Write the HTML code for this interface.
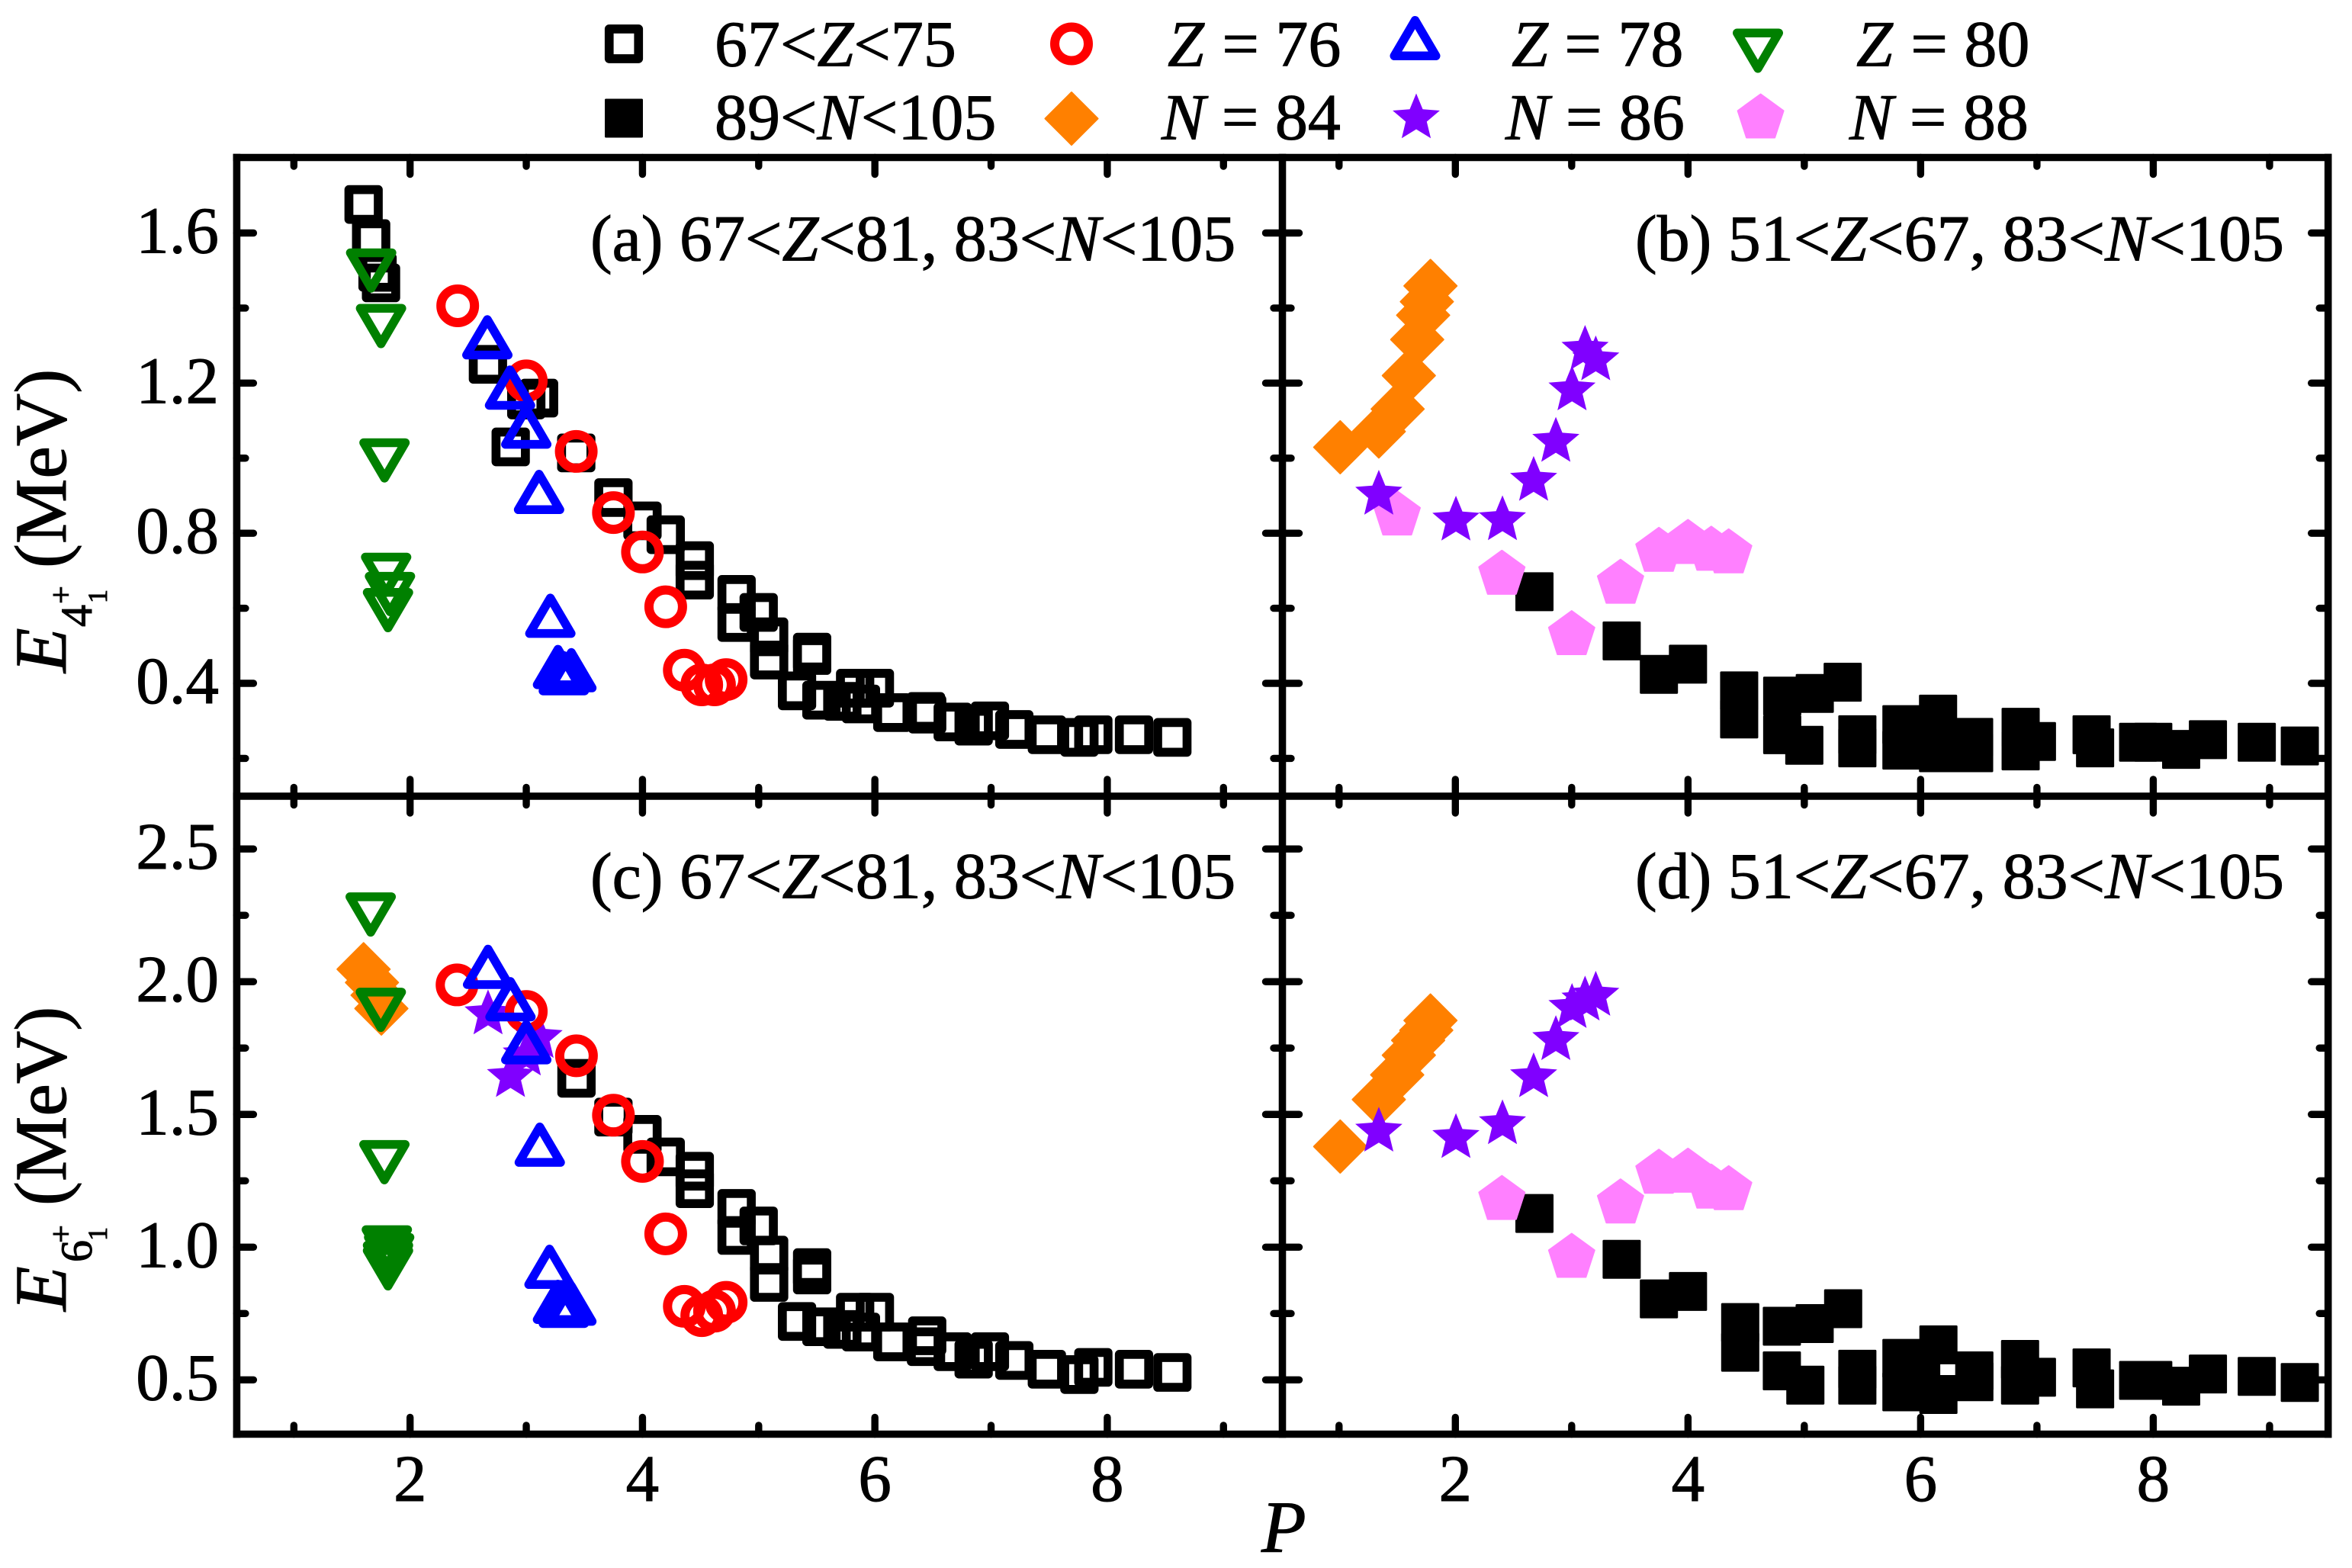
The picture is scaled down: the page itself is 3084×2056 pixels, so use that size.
<!DOCTYPE html>
<html lang="en">
<head>
<meta charset="utf-8">
<title>E vs P scatter panels</title>
<style>
html,body{margin:0;padding:0;background:#fff;}
svg{display:block;}
text{font-family:"Liberation Serif","DejaVu Serif",serif;fill:#000;stroke:#000;stroke-width:1;}
.it{font-style:italic;}
</style>
</head>
<body>
<svg id="chart" xmlns="http://www.w3.org/2000/svg" width="3084" height="2056" viewBox="0 0 3084 2056">
<rect x="0" y="0" width="3084" height="2056" fill="#fff"/>
<g id="marks"></g>
<g id="axes"></g>
<g id="legend-marks"></g>

<g font-size="86">
<text x="937" y="86.5">67&lt;<tspan class="it">Z</tspan>&lt;75</text>
<text x="937" y="182.5">89&lt;<tspan class="it">N</tspan>&lt;105</text>
<text x="1531" y="86.5"><tspan class="it">Z</tspan><tspan dx="2"> = 76</tspan></text>
<text x="1523" y="182.5"><tspan class="it">N</tspan> = 84</text>
<text x="1982" y="86.5"><tspan class="it">Z</tspan> = 78</text>
<text x="1974" y="182.5"><tspan class="it">N</tspan> = 86</text>
<text x="2434" y="86.5"><tspan class="it">Z</tspan><tspan dx="2"> = 80</tspan></text>
<text x="2425" y="182.5"><tspan class="it">N</tspan> = 88</text>
</g>

<g font-size="86">
<text x="774" y="341.5">(a) 67&lt;<tspan class="it">Z</tspan>&lt;81, 83&lt;<tspan class="it">N</tspan>&lt;105</text>
<text x="2144" y="341.5">(b) 51&lt;<tspan class="it">Z</tspan>&lt;67, 83&lt;<tspan class="it">N</tspan>&lt;105</text>
<text x="774" y="1177.5">(c) 67&lt;<tspan class="it">Z</tspan>&lt;81, 83&lt;<tspan class="it">N</tspan>&lt;105</text>
<text x="2144" y="1177.5">(d) 51&lt;<tspan class="it">Z</tspan>&lt;67, 83&lt;<tspan class="it">N</tspan>&lt;105</text>
</g>

<g>
<text transform="translate(86,882) rotate(-90)" font-size="96" class="it">E</text>
<text transform="translate(120,822) rotate(-90)" font-size="58">4</text>
<text transform="translate(94,780) rotate(-90)" font-size="42" text-anchor="middle">+</text>
<text transform="translate(140,782) rotate(-90)" font-size="36" text-anchor="middle">1</text>
<text transform="translate(86,745) rotate(-90)" font-size="96">(MeV)</text>
</g>
<g>
<text transform="translate(86,1719) rotate(-90)" font-size="96" class="it">E</text>
<text transform="translate(120,1655) rotate(-90)" font-size="58">6</text>
<text transform="translate(94,1618) rotate(-90)" font-size="42" text-anchor="middle">+</text>
<text transform="translate(140,1618) rotate(-90)" font-size="36" text-anchor="middle">1</text>
<text transform="translate(86,1581) rotate(-90)" font-size="96">(MeV)</text>
</g>
<text x="1654" y="2035" font-size="96" class="it">P</text>
</svg>

<script>
// ---- tick values ----
const xMajorTicks = [2, 4, 6, 8];
const xMinorTicks = [1, 3, 5, 7, 9];
const yTopMajorTicks = [0.4, 0.8, 1.2, 1.6];
const yTopMinorTicks = [0.2, 0.6, 1.0, 1.4];
const yBottomMajorTicks = [0.5, 1.0, 1.5, 2.0, 2.5];
const yBottomMinorTicks = [0.75, 1.25, 1.75, 2.25];

// ---- panel (a) ----
const aOpenSquareP = [1.6,1.665,1.72,1.75,2.67,3.0,3.11,2.866,3.43,3.75,4.0,4.2,4.45,4.45,4.81,4.81,5.0,5.09,5.09,5.46,5.46,5.33,5.54,5.72,5.83,5.88,6.0,6.15,6.44,6.45,6.67,6.85,6.99,7.2,7.48,7.76,7.88,8.23,8.56];
const aOpenSquareE = [1.676,1.585,1.495,1.467,1.25,1.155,1.16,1.03,1.014,0.895,0.833,0.796,0.727,0.675,0.637,0.562,0.589,0.524,0.462,0.483,0.474,0.38,0.355,0.352,0.387,0.345,0.387,0.322,0.325,0.318,0.297,0.286,0.30,0.277,0.263,0.256,0.263,0.263,0.256];
const aCircleP = [2.41,3.0,3.43,3.75,4.0,4.2,4.36,4.51,4.62,4.72];
const aCircleE = [1.406,1.206,1.018,0.855,0.75,0.604,0.435,0.396,0.396,0.41];
const aTriUpP = [2.665,2.86,3.0,3.11,3.207,3.273,3.388,3.323];
const aTriUpE = [1.322,1.188,1.084,0.91,0.58,0.4435,0.435,0.427];
const aTriDownP = [1.665,1.75,1.78,1.794,1.827,1.81];
const aTriDownE = [1.5,1.352,0.994,0.689,0.638,0.595];

// ---- panel (b) ----
const bFilledP = [2.68,3.43,3.75,4.0,4.44,4.44,4.81,4.81,5.09,5.33,5.0,5.456,5.456,5.835,5.835,6.15,6.15,6.0,6.46,6.46,6.86,6.86,7.0,7.47,7.5,7.87,8.0,8.24,8.47,8.89,9.26];
const bFilledE = [0.644,0.513,0.424,0.451,0.38,0.305,0.366,0.263,0.373,0.403,0.235,0.263,0.228,0.29,0.222,0.318,0.215,0.26,0.256,0.215,0.283,0.22,0.245,0.263,0.228,0.243,0.243,0.224,0.25,0.243,0.233];
const bDiamondP = [1.01,1.342,1.504,1.6,1.672,1.723,1.755,1.786];
const bDiamondE = [1.029,1.071,1.131,1.22,1.316,1.381,1.417,1.459];
const bStarP = [1.342,2.005,2.405,2.673,2.864,3.003,3.115,3.207];
const bStarE = [0.909,0.84,0.841,0.946,1.05,1.187,1.295,1.267];
const bPentagonP = [1.5,2.4,3.0,3.42,3.75,4.0,4.2,4.35];
const bPentagonE = [0.854,0.696,0.535,0.672,0.757,0.778,0.76,0.753];

// ---- panel (c) ----
const cOpenSquareP = [3.432,3.75,4.0,4.2,4.45,4.45,4.81,4.81,5.0,5.09,5.09,5.46,5.46,5.33,5.54,5.72,5.83,5.88,6.0,6.15,6.45,6.44,6.67,6.85,6.99,7.2,7.48,7.76,7.88,8.23,8.56];
const cOpenSquareE = [1.636,1.49,1.425,1.34,1.286,1.22,1.146,1.044,1.08,0.97,0.867,0.923,0.895,0.72,0.70,0.69,0.755,0.68,0.755,0.643,0.666,0.625,0.606,0.578,0.606,0.573,0.54,0.52,0.547,0.54,0.528];
const cDiamondP = [1.6,1.672,1.72,1.753];
const cDiamondE = [2.047,1.997,1.949,1.899];
const cStarP = [2.671,2.864,3.11,3.0];
const cStarE = [1.886,1.65,1.797,1.731];
const cCircleP = [2.404,3.0,3.432,3.75,4.0,4.2,4.36,4.51,4.62,4.72];
const cCircleE = [1.988,1.888,1.721,1.497,1.323,1.05,0.777,0.742,0.759,0.792];
const cTriUpP = [2.671,2.864,3.0,3.116,3.2,3.273,3.388,3.323];
const cTriUpE = [2.056,1.934,1.772,1.386,0.926,0.794,0.787,0.779];
const cTriDownP = [1.661,1.748,1.779,1.8,1.82,1.81,1.81];
const cTriDownE = [2.253,1.894,1.32,0.999,0.97,0.94,0.92];

// ---- panel (d) ----
const dFilledP = [2.68,3.43,3.75,4.0,4.449,4.449,4.807,4.807,5.089,5.334,5.009,5.456,5.456,5.835,5.835,6.153,6.153,6.005,6.462,6.462,6.855,6.855,7.0,7.47,7.5,7.87,8.0,8.24,8.47,8.89,9.26];
const dFilledE = [1.127,0.954,0.805,0.833,0.716,0.604,0.702,0.534,0.712,0.768,0.48,0.54,0.48,0.581,0.455,0.632,0.445,0.536,0.534,0.493,0.577,0.48,0.51,0.545,0.466,0.498,0.498,0.476,0.522,0.513,0.49];
const dDiamondP = [1.01,1.342,1.5,1.6,1.68,1.75,1.786];
const dDiamondE = [1.379,1.556,1.649,1.723,1.779,1.817,1.854];
const dStarP = [1.342,2.005,2.405,2.673,2.864,3.003,3.115,3.207];
const dStarE = [1.444,1.42,1.472,1.649,1.789,1.91,1.938,1.956];
const dPentagonP = [2.4,3.0,3.42,3.75,4.0,4.2,4.35];
const dPentagonE = [1.187,0.969,1.174,1.286,1.29,1.23,1.224];

const NS = 'http://www.w3.org/2000/svg';
const marksLayer = document.getElementById('marks');
const axesLayer = document.getElementById('axes');
const legendLayer = document.getElementById('legend-marks');

function linear(d0, d1, r0, r1) {
  return function (v) { return r0 + (v - d0) * (r1 - r0) / (d1 - d0); };
}
const xLeft = linear(2, 8, 537.7, 1451.9);
const xRight = linear(2, 8, 1908.3, 2823.4);
const yTop = linear(1.6, 0.4, 305.5, 896);
const yBottom = linear(2.5, 0.5, 1113.2, 1809.3);

const FRAME_L = 310.4, FRAME_M = 1681.5, FRAME_R = 3052.7;
const FRAME_T = 206.5, FRAME_H = 1044, FRAME_B = 1880.5;

function polyPoints(cx, cy, n, outer, inner) {
  const pts = [];
  const count = inner ? n * 2 : n;
  for (let i = 0; i < count; i++) {
    const r = inner && i % 2 ? inner : outer;
    const a = -Math.PI / 2 + i * 2 * Math.PI / count;
    pts.push((cx + r * Math.cos(a)).toFixed(2) + ',' + (cy + r * Math.sin(a)).toFixed(2));
  }
  return pts.join(' ');
}

function shape(tag, attrs, parent) {
  const el = document.createElementNS(NS, tag);
  for (const k in attrs) el.setAttribute(k, attrs[k]);
  parent.appendChild(el);
  return el;
}

function drawMarker(kind, x, y, parent) {
  if (kind === 'open-square') {
    return shape('rect', {x: x - 19.25, y: y - 19.5, width: 38.5, height: 39, fill: 'none', stroke: '#000', 'stroke-width': 11.7, 'stroke-linejoin': 'round'}, parent);
  }
  if (kind === 'filled-square') {
    return shape('rect', {x: x - 25, y: y - 25.5, width: 50, height: 51, rx: 1.5, fill: '#000'}, parent);
  }
  if (kind === 'circle') {
    return shape('circle', {cx: x, cy: y, r: 22, fill: 'none', stroke: '#ff0000', 'stroke-width': 12}, parent);
  }
  if (kind === 'triangle-up') {
    const pts = x + ',' + (y - 23.25) + ' ' + (x + 27.25) + ',' + (y + 23.25) + ' ' + (x - 27.25) + ',' + (y + 23.25);
    return shape('polygon', {points: pts, fill: 'none', stroke: '#0000ff', 'stroke-width': 11.5, 'stroke-linejoin': 'round'}, parent);
  }
  if (kind === 'triangle-down') {
    const pts = x + ',' + (y + 23.25) + ' ' + (x + 27.25) + ',' + (y - 23.25) + ' ' + (x - 27.25) + ',' + (y - 23.25);
    return shape('polygon', {points: pts, fill: 'none', stroke: '#008000', 'stroke-width': 11.5, 'stroke-linejoin': 'round'}, parent);
  }
  if (kind === 'diamond') {
    return shape('polygon', {points: polyPoints(x, y, 4, 34.5), fill: '#ff8000', stroke: '#ff8000', 'stroke-width': 2, 'stroke-linejoin': 'round'}, parent);
  }
  if (kind === 'star') {
    return shape('polygon', {points: polyPoints(x, y + 3, 5, 32.5, 14.5), fill: '#8000ff'}, parent);
  }
  return shape('polygon', {points: polyPoints(x, y + 3, 5, 31.5), fill: '#ff80ff', stroke: '#ff80ff', 'stroke-width': 2, 'stroke-linejoin': 'round'}, parent);
}

function drawSeries(kind, panel, xs, ys, xFn, yFn) {
  const g = document.createElementNS(NS, 'g');
  
  
  marksLayer.appendChild(g);
  xs.forEach(function (p, i) {
    const el = drawMarker(kind, xFn(p), yFn(ys[i]), g);
    
    
  });
}

// Panel (a)
drawSeries('open-square', 'panel-a', aOpenSquareP, aOpenSquareE, xLeft, yTop);
drawSeries('circle', 'panel-a', aCircleP, aCircleE, xLeft, yTop);
drawSeries('triangle-up', 'panel-a', aTriUpP, aTriUpE, xLeft, yTop);
drawSeries('triangle-down', 'panel-a', aTriDownP, aTriDownE, xLeft, yTop);
// Panel (b)
drawSeries('filled-square', 'panel-b', bFilledP, bFilledE, xRight, yTop);
drawSeries('pentagon', 'panel-b', bPentagonP, bPentagonE, xRight, yTop);
drawSeries('diamond', 'panel-b', bDiamondP, bDiamondE, xRight, yTop);
drawSeries('star', 'panel-b', bStarP, bStarE, xRight, yTop);
// Panel (c)
drawSeries('open-square', 'panel-c', cOpenSquareP, cOpenSquareE, xLeft, yBottom);
drawSeries('diamond', 'panel-c', cDiamondP, cDiamondE, xLeft, yBottom);
drawSeries('star', 'panel-c', cStarP, cStarE, xLeft, yBottom);
drawSeries('circle', 'panel-c', cCircleP, cCircleE, xLeft, yBottom);
drawSeries('triangle-up', 'panel-c', cTriUpP, cTriUpE, xLeft, yBottom);
drawSeries('triangle-down', 'panel-c', cTriDownP, cTriDownE, xLeft, yBottom);
// Panel (d)
drawSeries('filled-square', 'panel-d', dFilledP, dFilledE, xRight, yBottom);
drawSeries('pentagon', 'panel-d', dPentagonP, dPentagonE, xRight, yBottom);
drawSeries('diamond', 'panel-d', dDiamondP, dDiamondE, xRight, yBottom);
drawSeries('star', 'panel-d', dStarP, dStarE, xRight, yBottom);

// Frame
function frameLine(x1, y1, x2, y2, name) {
  const el = shape('line', {x1: x1, y1: y1, x2: x2, y2: y2, stroke: '#000', 'stroke-width': 9.6, 'stroke-linecap': 'square'}, axesLayer);
  
  
}
frameLine(FRAME_L, FRAME_T, FRAME_R, FRAME_T, 'frame-top');
frameLine(FRAME_L, FRAME_H, FRAME_R, FRAME_H, 'frame-middle-horizontal');
frameLine(FRAME_L, FRAME_B, FRAME_R, FRAME_B, 'frame-bottom');
frameLine(FRAME_L, FRAME_T, FRAME_L, FRAME_B, 'frame-left');
frameLine(FRAME_M, FRAME_T, FRAME_M, FRAME_B, 'frame-middle-vertical');
frameLine(FRAME_R, FRAME_T, FRAME_R, FRAME_B, 'frame-right');

function tickLine(x1, y1, x2, y2, name) {
  const el = shape('line', {x1: x1, y1: y1, x2: x2, y2: y2, stroke: '#000', 'stroke-width': 9.4, 'stroke-linecap': 'round'}, axesLayer);
  
  
}
const MAJOR_LEN = 22, MINOR_LEN = 11.5;

function xTicks(list, len, xFn, name) {
  list.forEach(function (p) {
    const x = xFn(p);
    tickLine(x, FRAME_T, x, FRAME_T + len, name);
    tickLine(x, FRAME_H - len, x, FRAME_H + len, name);
    tickLine(x, FRAME_B - len, x, FRAME_B, name);
  });
}
function yTicks(list, len, yFn, name) {
  list.forEach(function (v) {
    const y = yFn(v);
    tickLine(FRAME_L, y, FRAME_L + len, y, name);
    tickLine(FRAME_M - len, y, FRAME_M + len, y, name);
    tickLine(FRAME_R - len, y, FRAME_R, y, name);
  });
}
xTicks(xMajorTicks, MAJOR_LEN, xLeft, 'x-major-tick');
xTicks(xMinorTicks, MINOR_LEN, xLeft, 'x-minor-tick');
xTicks(xMajorTicks, MAJOR_LEN, xRight, 'x-major-tick');
xTicks(xMinorTicks, MINOR_LEN, xRight, 'x-minor-tick');
yTicks(yTopMajorTicks, MAJOR_LEN, yTop, 'y-major-tick');
yTicks(yTopMinorTicks, MINOR_LEN, yTop, 'y-minor-tick');
yTicks(yBottomMajorTicks, MAJOR_LEN, yBottom, 'y-major-tick');
yTicks(yBottomMinorTicks, MINOR_LEN, yBottom, 'y-minor-tick');

function label(x, y, str, anchor, name) {
  const t = shape('text', {x: x, y: y, 'font-size': 87, 'text-anchor': anchor}, axesLayer);
  t.textContent = str;
  
  
}
xMajorTicks.forEach(function (p) {
  label(xLeft(p), 1968, String(p), 'middle', 'x-tick-label');
  label(xRight(p), 1968, String(p), 'middle', 'x-tick-label');
});
yTopMajorTicks.forEach(function (v) {
  label(287, yTop(v) + 26, v.toFixed(1), 'end', 'y-tick-label');
});
yBottomMajorTicks.forEach(function (v) {
  label(287, yBottom(v) + 26, v.toFixed(1), 'end', 'y-tick-label');
});

// Legend markers
function legendMark(kind, x, y, name) {
  const el = drawMarker(kind, x, y, legendLayer);
  
  
}
legendMark('open-square', 818, 57.5, 'legend-open-square');
legendMark('filled-square', 818, 155, 'legend-filled-square');
legendMark('circle', 1405, 57.5, 'legend-circle');
legendMark('diamond', 1405, 155.5, 'legend-diamond');
legendMark('triangle-up', 1855.5, 50, 'legend-triangle-up');
legendMark('star', 1857, 152, 'legend-star');
legendMark('triangle-down', 2305, 66.5, 'legend-triangle-down');
legendMark('pentagon', 2308.6, 152, 'legend-pentagon');
</script>
</body>
</html>
